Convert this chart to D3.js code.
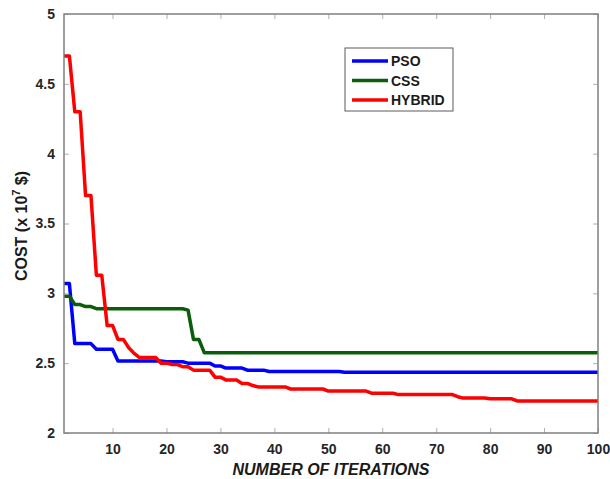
<!DOCTYPE html>
<html>
<head>
<meta charset="utf-8">
<script src="https://cdn.jsdelivr.net/npm/d3@7"></script>
<style>
  body { margin: 0; background: #fff; }
  svg { display: block; font-family: "Liberation Sans", Arial, sans-serif; }
</style>
</head>
<body>
<svg width="610" height="479"></svg>
<script>
// cost values (x 10^7 $) per iteration 1..100
var pso = [
  3.07, 3.07, 2.64, 2.64, 2.64, 2.64, 2.60, 2.60, 2.60, 2.60,
  2.515, 2.515, 2.515, 2.515, 2.515, 2.515, 2.515, 2.515, 2.515, 2.51,
  2.51, 2.51, 2.51, 2.50, 2.50, 2.50, 2.50, 2.50, 2.48, 2.48,
  2.465, 2.465, 2.465, 2.465, 2.45, 2.45, 2.45, 2.45, 2.44, 2.44,
  2.44, 2.44, 2.44, 2.44, 2.44, 2.44, 2.44, 2.44, 2.44, 2.44,
  2.44, 2.44, 2.435, 2.435, 2.435, 2.435, 2.435, 2.435, 2.435, 2.435,
  2.435, 2.435, 2.435, 2.435, 2.435, 2.435, 2.435, 2.435, 2.435, 2.435,
  2.435, 2.435, 2.435, 2.435, 2.435, 2.435, 2.435, 2.435, 2.435, 2.435,
  2.435, 2.435, 2.435, 2.435, 2.435, 2.435, 2.435, 2.435, 2.435, 2.435,
  2.435, 2.435, 2.435, 2.435, 2.435, 2.435, 2.435, 2.435, 2.435, 2.435
];
var css = [
  2.98, 2.98, 2.92, 2.92, 2.905, 2.905, 2.89, 2.89, 2.89, 2.89,
  2.89, 2.89, 2.89, 2.89, 2.89, 2.89, 2.89, 2.89, 2.89, 2.89,
  2.89, 2.89, 2.89, 2.88, 2.67, 2.67, 2.575, 2.575, 2.575, 2.575,
  2.575, 2.575, 2.575, 2.575, 2.575, 2.575, 2.575, 2.575, 2.575, 2.575,
  2.575, 2.575, 2.575, 2.575, 2.575, 2.575, 2.575, 2.575, 2.575, 2.575,
  2.575, 2.575, 2.575, 2.575, 2.575, 2.575, 2.575, 2.575, 2.575, 2.575,
  2.575, 2.575, 2.575, 2.575, 2.575, 2.575, 2.575, 2.575, 2.575, 2.575,
  2.575, 2.575, 2.575, 2.575, 2.575, 2.575, 2.575, 2.575, 2.575, 2.575,
  2.575, 2.575, 2.575, 2.575, 2.575, 2.575, 2.575, 2.575, 2.575, 2.575,
  2.575, 2.575, 2.575, 2.575, 2.575, 2.575, 2.575, 2.575, 2.575, 2.575
];
var hybrid = [
  4.70, 4.70, 4.30, 4.30, 3.70, 3.70, 3.13, 3.13, 2.77, 2.77,
  2.67, 2.67, 2.61, 2.57, 2.54, 2.54, 2.54, 2.54, 2.50, 2.50,
  2.49, 2.49, 2.475, 2.475, 2.45, 2.45, 2.45, 2.45, 2.40, 2.40,
  2.38, 2.38, 2.38, 2.355, 2.355, 2.34, 2.33, 2.33, 2.33, 2.33,
  2.33, 2.33, 2.315, 2.315, 2.315, 2.315, 2.315, 2.315, 2.315, 2.30,
  2.30, 2.30, 2.30, 2.30, 2.30, 2.30, 2.30, 2.285, 2.285, 2.285,
  2.285, 2.285, 2.275, 2.275, 2.275, 2.275, 2.275, 2.275, 2.275, 2.275,
  2.275, 2.275, 2.275, 2.26, 2.25, 2.25, 2.25, 2.25, 2.25, 2.245,
  2.245, 2.245, 2.245, 2.245, 2.23, 2.23, 2.23, 2.23, 2.23, 2.23,
  2.23, 2.23, 2.23, 2.23, 2.23, 2.23, 2.23, 2.23, 2.23, 2.23
];
var seriesNames = ["PSO", "CSS", "HYBRID"];
var seriesColors = ["#0000ff", "#0b5c0b", "#ff0000"];
var xTicks = [10, 20, 30, 40, 50, 60, 70, 80, 90, 100];
var yTicks = [2, 2.5, 3, 3.5, 4, 4.5, 5];

(function () {
    var svg = d3.select("svg"),
        x0 = 64, x1 = 598, y0 = 14, y1 = 433;

    var x = d3.scaleLinear().domain([1, 100]).range([x0, x1]);
    var y = d3.scaleLinear().domain([2, 5]).range([y1, y0]);

    var series = [pso, css, hybrid];

    // plot lines
    var line = d3.line()
        .x(function (d, i) { return x(i + 1); })
        .y(function (d) { return y(d); });

    svg.append("g").selectAll("path")
        .data(series)
        .enter().append("path")
        .attr("d", line)
        .attr("fill", "none")
        .attr("stroke", function (d, i) { return seriesColors[i]; })
        .attr("stroke-width", 3.5)
        .attr("stroke-linejoin", "round");

    // axes (MATLAB-like box with inward ticks)
    var xAxis = svg.append("g")
        .attr("transform", "translate(0," + y1 + ")")
        .call(d3.axisBottom(x).tickValues(xTicks).tickSizeInner(-5).tickSizeOuter(0).tickPadding(11));
    var yAxis = svg.append("g")
        .attr("transform", "translate(" + x0 + ",0)")
        .call(d3.axisLeft(y).tickValues(yTicks).tickSizeInner(-5).tickSizeOuter(0).tickPadding(9)
            .tickFormat(d3.format("")));
    var xTop = svg.append("g")
        .attr("transform", "translate(0," + y0 + ")")
        .call(d3.axisTop(x).tickValues(xTicks).tickSizeInner(-5).tickSizeOuter(0).tickFormat(""));
    var yRight = svg.append("g")
        .attr("transform", "translate(" + x1 + ",0)")
        .call(d3.axisRight(y).tickValues(yTicks).tickSizeInner(-5).tickSizeOuter(0).tickFormat(""));

    [xAxis, yAxis, xTop, yRight].forEach(function (g) {
        g.select(".domain").remove();
        g.selectAll(".tick line").attr("stroke", "#b0b0b0");
        g.selectAll(".tick text")
            .attr("fill", "#262626")
            .attr("font-size", 14)
            .attr("font-weight", "bold")
            .attr("font-family", "Liberation Sans, Arial, sans-serif");
    });

    svg.append("rect")
        .attr("x", x0).attr("y", y0)
        .attr("width", x1 - x0).attr("height", y1 - y0)
        .attr("fill", "none")
        .attr("stroke", "#7f7f7f")
        .attr("stroke-width", 1.5);

    // axis titles
    svg.append("text")
        .attr("x", (x0 + x1) / 2)
        .attr("y", 475)
        .attr("text-anchor", "middle")
        .attr("font-size", 16)
        .attr("font-weight", "bold")
        .attr("font-style", "italic")
        .attr("fill", "#1a1a1a")
        .text("NUMBER OF ITERATIONS");

    var yTitle = svg.append("text")
        .attr("transform", "translate(27,226) rotate(-90)")
        .attr("text-anchor", "middle")
        .attr("font-size", 16)
        .attr("font-weight", "bold")
        .attr("fill", "#1a1a1a");
    yTitle.append("tspan").text("COST (x 10");
    yTitle.append("tspan").attr("dy", -7).attr("font-size", 11).text("7");
    yTitle.append("tspan").attr("dy", 7).text(" $)");

    // legend
    var legend = svg.append("g").attr("transform", "translate(345,48)");
    legend.append("rect")
        .attr("width", 108).attr("height", 63)
        .attr("fill", "#fff")
        .attr("stroke", "#5a5a5a")
        .attr("stroke-width", 1);
    var item = legend.selectAll(".item")
        .data(seriesNames)
        .enter().append("g")
        .attr("class", "item")
        .attr("transform", function (d, i) { return "translate(0," + (13 + i * 19.5) + ")"; });
    item.append("line")
        .attr("x1", 7).attr("x2", 43)
        .attr("stroke", function (d, i) { return seriesColors[i]; })
        .attr("stroke-width", 3.5);
    item.append("text")
        .attr("x", 46)
        .attr("dy", "0.36em")
        .attr("font-size", 14)
        .attr("font-weight", "bold")
        .attr("fill", "#1a1a1a")
        .text(function (d) { return d; });
})();
</script>
</body>
</html>
